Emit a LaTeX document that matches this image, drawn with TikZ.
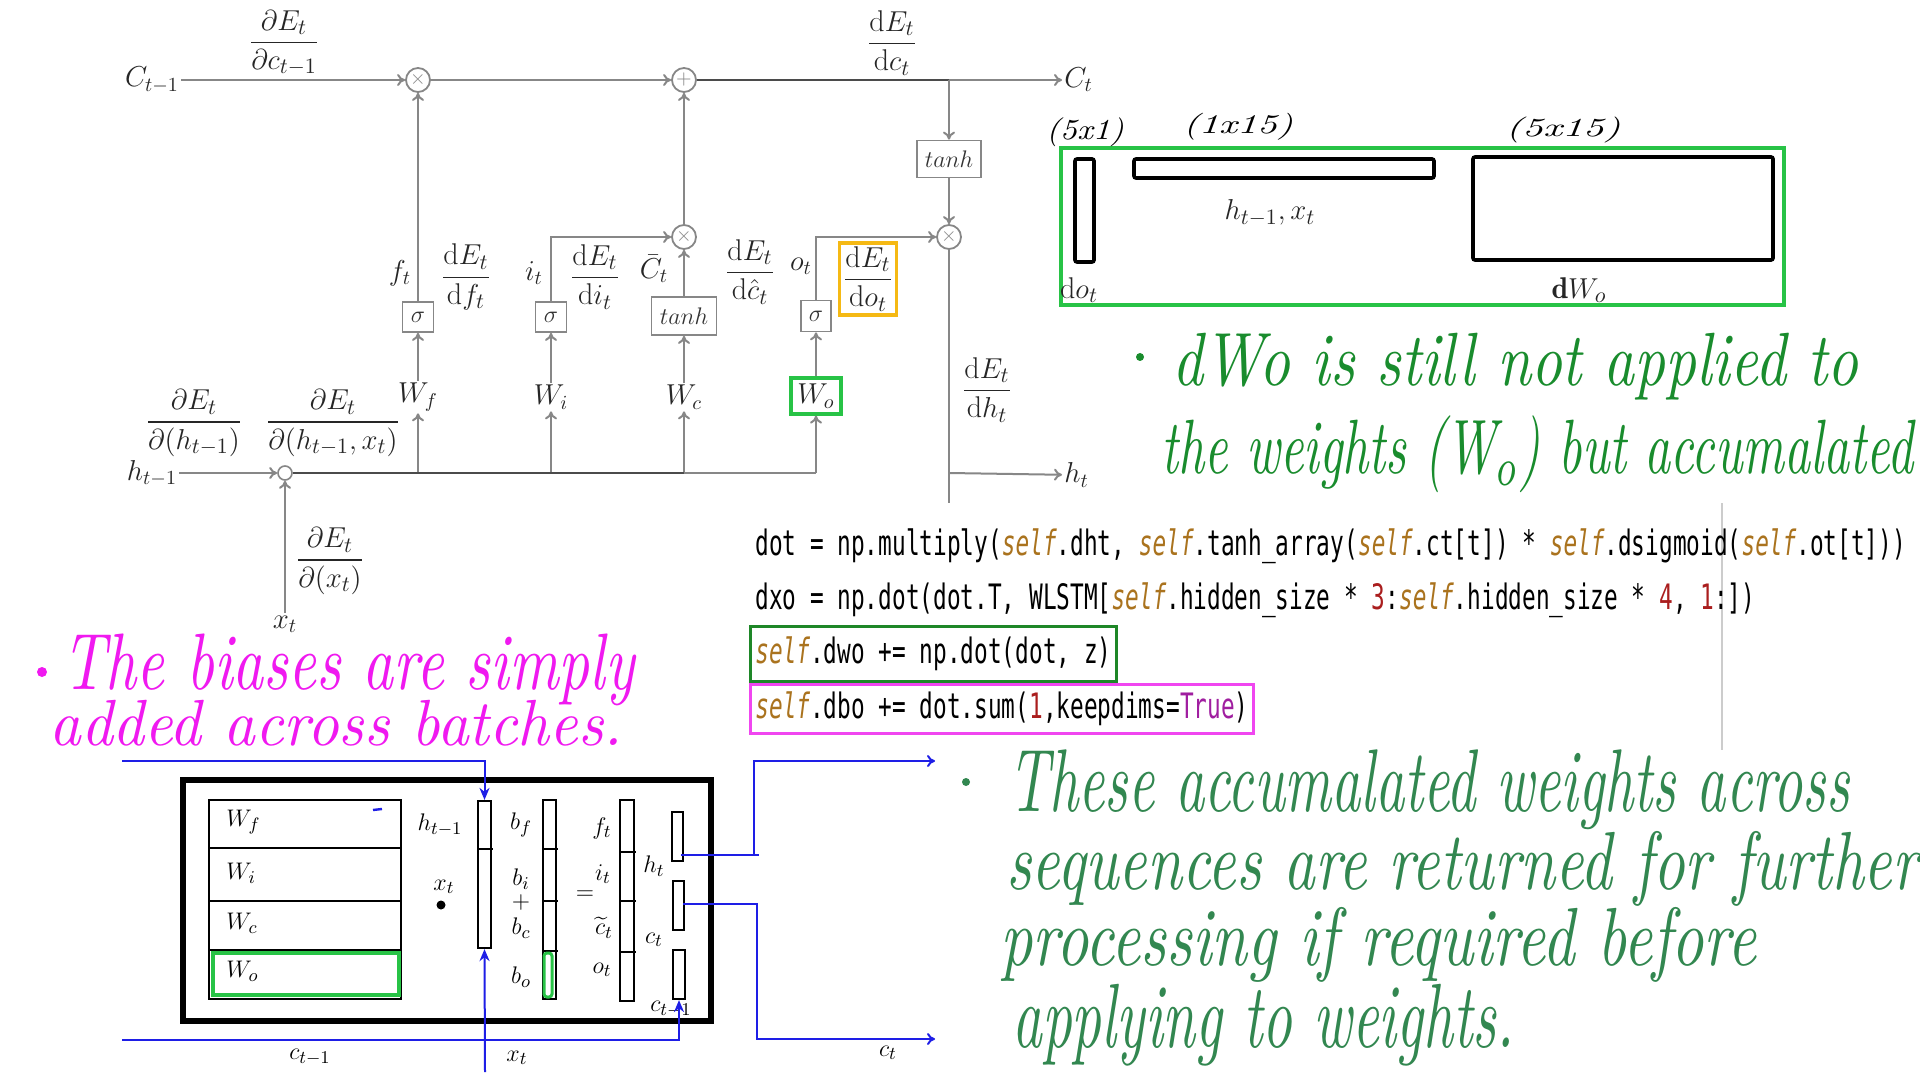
\documentclass[tikz,border=0pt]{standalone}
\usepackage{fontspec}
\usepackage{amsmath}
\usepackage{graphicx}
\usetikzlibrary{arrows.meta,fit,calc}
\newfontfamily\codefont[FakeStretch=0.65]{DejaVu Sans Mono}
\definecolor{lgray}{RGB}{135,135,135}
\definecolor{dgray}{RGB}{75,75,75}
\definecolor{bgreen}{RGB}{40,195,70}
\definecolor{amber}{RGB}{245,185,20}
\definecolor{cgreen}{RGB}{30,135,40}
\definecolor{cpink}{RGB}{240,70,240}
\definecolor{selfc}{RGB}{170,115,30}
\definecolor{numc}{RGB}{170,30,30}
\definecolor{truec}{RGB}{160,30,160}
\definecolor{hgreen}{RGB}{25,140,45}
\definecolor{hgreentwo}{RGB}{50,135,80}
\definecolor{hpink}{RGB}{240,25,240}
\definecolor{bblue}{RGB}{30,30,230}
\newcommand{\selfw}{{\color{selfc}\itshape self}}
\newcommand{\hwtxt}[3]{\resizebox*{#1}{#2}{\itshape #3}}
\begin{document}
\begin{tikzpicture}[x=0.5pt,y=-0.5pt,
  gl/.style={draw=lgray, line width=1pt},
  dl/.style={draw=dgray, line width=1.3pt},
  ga/.style={gl, -{To[length=4pt,width=6pt]}},
  mult/.style={circle, draw=lgray, line width=0.9pt, minimum size=12pt, inner sep=0pt, text=lgray, font=\fontsize{10}{10}\selectfont},
  gbox/.style={draw=lgray, line width=0.9pt, inner sep=0pt, text=black!80, font=\fontsize{13}{14}\selectfont},
  lbl/.style={text=black!85, font=\fontsize{14}{16}\selectfont, inner sep=1pt},
  fr/.style={text=black!85, font=\fontsize{15}{18}\selectfont, inner sep=0pt},
  blbl/.style={text=black, font=\fontsize{13}{15}\selectfont, inner sep=0pt},
  brect/.style={draw=black, line width=1.8pt, rounded corners=1pt, inner sep=0pt},
  thin/.style={draw=black, line width=1.1pt, inner sep=0pt},
  code/.style={font={\codefont\fontsize{17.5}{19}\selectfont}, inner sep=0pt, anchor=west},
  hwn/.style={inner sep=0pt, anchor=west},
  bl/.style={draw=bblue, line width=1pt},
  bla/.style={bl, -{Stealth[length=6pt,width=5pt]}},
  blr/.style={bl, -{To[length=4pt,width=6pt]}}
]
\fill[white] (0,0) rectangle (1920,1080);
\useasboundingbox (0,0) rectangle (1920,1080);

% ---------------- LSTM cell ----------------
\node[lbl] (cprev) at (152,80) {$C_{t-1}$};
\node[mult] (m1) at (418,80) {$\times$};
\node[mult] (pl) at (684,80) {$+$};
\coordinate (br) at (949,80);
\node[lbl, anchor=west] (ctl) at (1062,80) {$C_t$};
\node[gbox, minimum width=32pt, minimum height=18.5pt] (th1) at (949,159) {$tanh$};
\node[mult] (m3) at (949,237) {$\times$};
\node[mult] (m2) at (684,237) {$\times$};
\node[gbox, minimum width=15.5pt, minimum height=15pt] (sf) at (418,317) {$\sigma$};
\node[gbox, minimum width=15.5pt, minimum height=15pt] (si) at (551,317) {$\sigma$};
\node[gbox, minimum width=32.5pt, minimum height=19pt] (tc) at (684,316) {$tanh$};
\node[gbox, minimum width=15pt, minimum height=15.5pt] (so) at (816,316) {$\sigma$};
\node[lbl] (wf) at (418,397) {$W_f$};
\node[lbl] (wi) at (551,397) {$W_i$};
\node[lbl] (wc) at (684,397) {$W_c$};
\node[lbl, draw=bgreen, line width=1.6pt, minimum width=25pt, minimum height=18pt] (wo) at (816,396) {$W_o$};
\node[lbl] (hprev) at (152,473) {$h_{t-1}$};
\node[circle, draw=lgray, line width=0.8pt, minimum size=7pt, inner sep=0pt] (cat) at (285,473) {};
\node[lbl] (xt) at (285,624) {$x_t$};
\node[lbl, anchor=west] (htl) at (1062,475) {$h_t$};
\coordinate (jf) at (418,473);
\coordinate (ji) at (551,473);
\coordinate (jc) at (684,473);
\coordinate (jo) at (816,473);
\coordinate (hb) at (949,473);
\coordinate (vend) at (949,503);

\draw[ga] (cprev) -- (m1);
\draw[ga] (m1) -- (pl);
\draw[dl] (pl) -- (br);
\draw[ga] (br) -- (ctl);
\draw[ga] (br) -- (th1);
\draw[ga] (th1) -- (m3);
\draw[ga] (sf) -- (m1);
\draw[ga] (si) |- (m2);
\draw[ga] (tc) -- (m2);
\draw[ga] (m2) -- (pl);
\draw[ga] (so) |- (m3);
\draw[gl] (m3) -- (vend);
\draw[ga] (hb) -- (htl);
\draw[ga] (wf) -- (sf);
\draw[ga] (wi) -- (si);
\draw[ga] (wc) -- (tc);
\draw[ga] (wo) -- (so);
\draw[ga] (jf) -- (wf);
\draw[ga] (ji) -- (wi);
\draw[ga] (jc) -- (wc);
\draw[ga] (jo) -- (wo);
\draw[ga] (hprev) -- (cat);
\draw[ga] (xt) -- (cat);
\draw[dl] (cat) -- (jc);
\draw[gl] (jc) -- (jo);

\node[fr] (f1) at (284,43) {$\dfrac{\partial E_t}{\partial c_{t-1}}$};
\node[fr] (f2) at (892,43) {$\dfrac{\mathrm{d}E_t}{\mathrm{d}c_t}$};
\node[lbl] (ftl) at (400,273) {$f_t$};
\node[fr] (f3) at (466,277) {$\dfrac{\mathrm{d}E_t}{\mathrm{d}f_t}$};
\node[lbl] (itl) at (534,273) {$i_t$};
\node[fr] (f4) at (595,277) {$\dfrac{\mathrm{d}E_t}{\mathrm{d}i_t}$};
\node[lbl] (cbl) at (654,269) {$\bar{C}_t$};
\node[fr] (f5) at (750,272) {$\dfrac{\mathrm{d}E_t}{\mathrm{d}\hat{c}_t}$};
\node[lbl] (otl) at (801,266) {$o_t$};
\node[fr, draw=amber, line width=1.6pt, minimum width=28.5pt, minimum height=36pt] (f6) at (868,279) {$\dfrac{\mathrm{d}E_t}{\mathrm{d}o_t}$};
\node[fr] (f7) at (987,390) {$\dfrac{\mathrm{d}E_t}{\mathrm{d}h_t}$};
\node[fr] (f8) at (194,423) {$\dfrac{\partial E_t}{\partial(h_{t-1})}$};
\node[fr] (f9) at (333,423) {$\dfrac{\partial E_t}{\partial(h_{t-1},x_t)}$};
\node[fr] (f10) at (330,561) {$\dfrac{\partial E_t}{\partial(x_t)}$};

% ---------------- top right matrices ----------------
\node[draw=bgreen, line width=2pt, minimum width=361.5pt, minimum height=78.5pt, inner sep=0pt] (gbx) at (1422.5,226.5) {};
\node[brect, minimum width=9.5pt, minimum height=51.5pt] (v1) at (1084.5,210.5) {};
\node[brect, minimum width=150pt, minimum height=9.5pt] (h1) at (1284,168.5) {};
\node[brect, minimum width=150pt, minimum height=51.5pt] (bigr) at (1623,208.5) {};
\node[fr] (hxl) at (1270,213) {$h_{t-1},x_t$};
\node[fr] (dol) at (1079,290) {$\mathrm{d}o_t$};
\node[fr] (dwl) at (1579,290) {$\mathbf{d}W_o$};
\node[inner sep=0pt] (s1) at (1085,132.5) {\hwtxt{39pt}{14.5pt}{(5x1)}};
\node[inner sep=0pt] (s2) at (1238,126.5) {\hwtxt{55pt}{13.5pt}{(1x15)}};
\node[inner sep=0pt] (s3) at (1563,130) {\hwtxt{57.5pt}{13pt}{(5x15)}};

% ---------------- green note 1 ----------------
\fill[hgreen] (1140,357) circle (4);
\node[hwn, text=hgreen] (n1a) at (1172,366.5) {\hwtxt{343pt}{33.5pt}{dWo is still not applied to}};
\node[hwn, text=hgreen] (n1b) at (1161,454.5) {\hwtxt{376pt}{38.5pt}{the weights (W$_o$) but accumalated}};

% ---------------- code ----------------
\draw[draw=black!20, line width=0.6pt] (1722,503) -- (1722,750);
\node[code] (c1) at (755,546) {dot = np.multiply(\selfw.dht, \selfw.tanh\_array(\selfw.ct[t]) * \selfw.dsigmoid(\selfw.ot[t]))};
\node[code] (c2) at (755,600) {dxo = np.dot(dot.T, WLSTM[\selfw.hidden\_size * {\color{numc}3}:\selfw.hidden\_size * {\color{numc}4}, {\color{numc}1}:])};
\node[code] (c3) at (755,654) {\selfw.dwo += np.dot(dot, z)};
\node[code] (c4) at (755,709) {\selfw.dbo += dot.sum({\color{numc}1},keepdims={\color{truec}True})};
\node[fit=(c3), draw=cgreen, line width=1.5pt, inner xsep=2.5pt, inner ysep=5pt] (c3box) {};
\node[fit=(c4), draw=cpink, line width=1.5pt, inner xsep=2.5pt, inner ysep=3.5pt] (c4box) {};

% ---------------- pink note ----------------
\fill[hpink] (42,672) circle (5);
\node[hwn, text=hpink] (p1) at (62,670) {\hwtxt{286pt}{36pt}{The biases are simply}};
\node[hwn, text=hpink] (p2) at (49,723) {\hwtxt{286.5pt}{23pt}{added across batches.}};

% ---------------- green note 2 ----------------
\fill[hgreentwo] (966,782) circle (4);
\node[hwn, text=hgreentwo] (q1) at (1008,790) {\hwtxt{420.5pt}{40pt}{These accumalated weights across}};
\node[hwn, text=hgreentwo] (q2) at (1006,868.5) {\hwtxt{456pt}{37.5pt}{sequences are returned for further}};
\node[hwn, text=hgreentwo] (q3) at (1000,944.5) {\hwtxt{378pt}{37.5pt}{processing if required before}};
\node[hwn, text=hgreentwo] (q4) at (1012,1025) {\hwtxt{251pt}{41pt}{applying to weights.}};

% ---------------- bottom left block ----------------
\node[draw=black, line width=3pt, minimum width=264pt, minimum height=120.5pt, inner sep=0pt] (outer) at (447,900.5) {};
\node[thin, minimum width=96pt, minimum height=24pt] (rf) at (305,824) {};
\node[thin, minimum width=96pt, minimum height=26.5pt] (ri) at (305,874.5) {};
\node[thin, minimum width=96pt, minimum height=24.5pt] (rc) at (305,925.5) {};
\node[thin, minimum width=96pt, minimum height=24.5pt] (ro) at (305,974.5) {};
\node[draw=bgreen, line width=2pt, minimum width=93pt, minimum height=21pt, inner sep=0pt] (rog) at (306,974) {};
\node[blbl, anchor=west] (lwf) at (226,822) {$W_f$};
\node[blbl, anchor=west] (lwi) at (226,873) {$W_i$};
\node[blbl, anchor=west] (lwc) at (226,923) {$W_c$};
\node[blbl, anchor=west] (lwo) at (226,971) {$W_o$};
\draw[bblue, line width=1.2pt] (373,810) -- (382,809);

\node[blbl] (lh) at (440,825) {$h_{t-1}$};
\node[blbl] (lx) at (444,887) {$x_t$};
\fill[black] (441,905) circle (4.5);
\node[thin, minimum width=6.5pt, minimum height=73.5pt] (hx) at (484.5,874.5) {};
\draw[black, line width=1.1pt] (478,849) -- (493,849);

\node[thin, minimum width=6.5pt, minimum height=99.5pt] (bcol) at (549.5,899.5) {};
\draw[black, line width=1.1pt] (543,849) -- (558,849);
\draw[black, line width=1.1pt] (543,901) -- (558,901);
\draw[black, line width=1.1pt] (543,951) -- (558,951);
\node[draw=bgreen, line width=1.5pt, rounded corners=1.5pt, minimum width=4pt, minimum height=22pt, inner sep=0pt] (bog) at (548,975) {};
\node[blbl] (lbf) at (521,825) {$b_f$};
\node[blbl] (lbi) at (521,879) {$b_i$};
\node[blbl] (lplus) at (521,902) {$+$};
\node[blbl] (lbc) at (521,928) {$b_c$};
\node[blbl] (lbo) at (521,977) {$b_o$};
\node[blbl] (leq) at (585,895) {$=$};

\node[thin, minimum width=7pt, minimum height=100.5pt] (fcol) at (627,900.5) {};
\draw[black, line width=1.1pt] (620,852) -- (636,852);
\draw[black, line width=1.1pt] (620,901) -- (636,901);
\draw[black, line width=1.1pt] (620,952) -- (636,952);
\node[blbl] (lft) at (602,828) {$f_t$};
\node[blbl] (lit) at (603,874) {$i_t$};
\node[blbl] (lct) at (604,928) {$\widetilde{c}_t$};
\node[blbl] (lot) at (602,970) {$o_t$};

\node[thin, minimum width=5.5pt, minimum height=24.5pt] (htr) at (677.5,836.5) {};
\node[thin, minimum width=5.5pt, minimum height=24.5pt] (ctr) at (678.5,905.5) {};
\node[thin, minimum width=6pt, minimum height=24.5pt] (cpr) at (679,974.5) {};
\node[blbl] (lht) at (654,866) {$h_t$};
\node[blbl] (lctt) at (654,940) {$c_t$};
\node[blbl] (lcpr) at (671,1009) {$c_{t-1}$};

\coordinate (b1s) at (122,761);
\coordinate (b2s) at (122,1040);
\coordinate (b3s) at (485,1072);
\draw[bla] (b1s) -| (hx.north);
\draw[bla] (b2s) -| (cpr.south);
\draw[bla] (b3s) -- (hx.south);
\coordinate (hto) at (681,855);
\coordinate (hturn) at (754,855);
\coordinate (hend) at (935,761);
\draw[bl] (hto) -- (759,855);
\draw[blr] (hturn) |- (hend);
\coordinate (cto) at (683,904);
\coordinate (cturn) at (757,904);
\coordinate (cend) at (935,1039);
\draw[blr] (cto) -- (cturn) |- (cend);
\node[blbl] (lcp) at (310,1057) {$c_{t-1}$};
\node[blbl] (lxt) at (517,1058) {$x_t$};
\node[blbl] (lco) at (888,1053) {$c_t$};
\end{tikzpicture}
\end{document}
